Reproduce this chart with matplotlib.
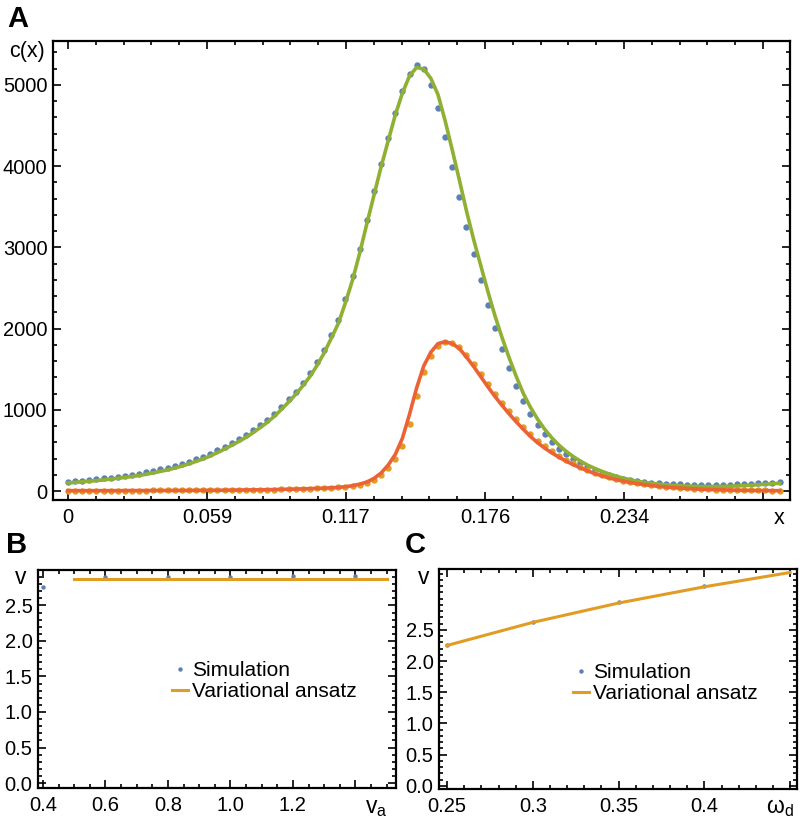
import numpy as np
import matplotlib
matplotlib.use('Agg')
import matplotlib.pyplot as plt
from matplotlib.ticker import MultipleLocator, FixedLocator

plt.rcParams['font.family'] = ['Liberation Sans', 'DejaVu Sans']
plt.rcParams['mathtext.default'] = 'regular'

# ---- panel A: concentration profiles ----
# simulation grid (step 0.003) and values
x_sim = np.arange(101) * 0.003

c1_sim = [115, 123, 130, 138, 146, 155, 166, 177, 189, 200,
          214, 230, 248, 266, 285, 307, 334, 362, 392, 421,
          461, 503, 548, 594, 640, 690, 750, 812, 875, 950,
          1040, 1130, 1225, 1330, 1450, 1585, 1740, 1925, 2110, 2370,
          2650, 2980, 3340, 3690, 4030, 4350, 4660, 4930, 5140, 5240,
          5190, 5000, 4720, 4358, 3993, 3617, 3254, 2921, 2601, 2292,
          2009, 1750, 1511, 1292, 1105, 949, 815, 701, 605, 523,
          454, 394, 342, 298, 260, 227, 197, 171, 152, 138,
          126, 115, 105, 97, 91, 86, 82, 79, 77, 76,
          76, 77, 78, 80, 83, 87, 91, 96, 101, 105, 110]

c1_ansatz = [100, 107, 114, 121, 129, 137, 147, 157, 168, 179,
             192, 207, 224, 242, 261, 283, 308, 335, 365, 395,
             432, 473, 517, 563, 610, 660, 718, 780, 845, 920,
             1005, 1095, 1190, 1295, 1410, 1545, 1700, 1880, 2065, 2320,
             2600, 2930, 3290, 3640, 3990, 4310, 4630, 4900, 5110, 5215,
             5195, 5080, 4880, 4560, 4200, 3830, 3450, 3100, 2780, 2460,
             2160, 1890, 1640, 1410, 1200, 1030, 885, 760, 655, 565,
             490, 425, 370, 320, 280, 245, 212, 185, 160, 140,
             122, 107, 95, 85, 77, 70, 65, 61, 58, 56,
             55, 56, 57, 60, 63, 67, 72, 78, 84, 90, 96]

c2_sim = [5, 5, 5, 5, 5, 5, 5, 5, 6, 6,
          6, 6, 7, 7, 7, 8, 8, 8, 9, 9,
          10, 10, 11, 12, 13, 14, 15, 16, 17, 19,
          21, 23, 25, 27, 30, 33, 36, 40, 45, 50,
          62, 78, 100, 137, 195, 285, 390, 560, 830, 1165,
          1460, 1660, 1790, 1835, 1825, 1775, 1680, 1570, 1445, 1320,
          1200, 1090, 985, 885, 790, 700, 620, 550, 490, 435,
          385, 340, 300, 262, 228, 198, 172, 150, 130, 112,
          97, 84, 72, 62, 53, 46, 40, 34, 29, 25,
          22, 19, 16, 14, 12, 10, 9, 8, 7, 6, 5]

c2_ansatz = [5, 5, 5, 5, 5, 5, 5, 5, 6, 6,
             6, 6, 7, 7, 7, 8, 8, 8, 9, 9,
             10, 10, 11, 12, 13, 14, 15, 16, 17, 19,
             21, 23, 25, 27, 30, 33, 36, 40, 46, 53,
             67, 85, 112, 155, 222, 320, 450, 650, 945, 1270,
             1540, 1710, 1815, 1838, 1815, 1755, 1650, 1535, 1410, 1285,
             1165, 1055, 950, 852, 760, 672, 595, 528, 470, 417,
             368, 325, 286, 250, 217, 188, 163, 142, 123, 106,
             92, 79, 68, 58, 50, 43, 37, 32, 27, 23,
             20, 17, 15, 13, 11, 9, 8, 7, 6, 5, 5]

xA_ticks = [0, 0.0586, 0.1172, 0.1758, 0.2344, 0.293]
xA_labels = ['0', '0.059', '0.117', '0.176', '0.234', '']
yA_ticks = [0, 1000, 2000, 3000, 4000, 5000]

# ---- panel B: velocity vs v_a ----
va_sim = [0.4, 0.6, 0.8, 1.0, 1.2, 1.4]
vB_sim = [2.76, 2.895, 2.895, 2.90, 2.91, 2.915]
va_ansatz = [0.5, 1.5]
vB_ansatz = [2.88, 2.88]

# ---- panel C: velocity vs omega_d ----
wd_sim = [0.25, 0.3, 0.35, 0.4]
vC_sim = [2.26, 2.63, 2.95, 3.20]
wd_ansatz = [0.25, 0.3, 0.35, 0.4, 0.45]
vC_ansatz = [2.25, 2.62, 2.93, 3.19, 3.42]

BLUE = '#5E81B5'
ORANGE = '#E19C24'
GREEN = '#8FB032'
RED = '#EB6235'
FS = 14.5


def style_frame(ax):
    for s in ax.spines.values():
        s.set_linewidth(1.6)
    ax.tick_params(which='both', direction='in', top=True, right=True,
                   labelsize=FS, width=1.2)
    ax.tick_params(which='major', length=5.5)
    ax.tick_params(which='minor', length=3)
    ax.tick_params(axis='x', pad=6)
    ax.tick_params(axis='y', pad=4)


fig = plt.figure(figsize=(8, 8.18), dpi=100)

# panel A
axA = fig.add_axes([0.06625, 0.38875, 0.92125, 0.5611])
axA.plot(x_sim, c1_sim, 'o', color=BLUE, ms=4.6, mec='none', zorder=2)
axA.plot(x_sim, c2_sim, 'o', color=ORANGE, ms=4.6, mec='none', zorder=2)
axA.plot(x_sim, c1_ansatz, '-', color=GREEN, lw=2.6, zorder=3)
axA.plot(x_sim, c2_ansatz, '-', color=RED, lw=2.6, zorder=3)
axA.set_xlim(-0.0063, 0.3044)
axA.set_ylim(-110, 5540)
axA.xaxis.set_major_locator(FixedLocator(xA_ticks))
axA.set_xticklabels(xA_labels)
axA.xaxis.set_minor_locator(MultipleLocator(0.01172))
axA.set_yticks(yA_ticks)
axA.yaxis.set_minor_locator(MultipleLocator(200))
style_frame(axA)
axA.annotate('x', xy=(0.2999, 0), xycoords=('data', 'axes fraction'),
             xytext=(0, -6), textcoords='offset points',
             ha='center', va='top', fontsize=FS + 1)
fig.text(27 / 800, 1 - 52 / 818, 'c(x)', ha='center', va='center', fontsize=FS + 1)
fig.text(7 / 800, 1 - 5 / 818, 'A', ha='left', va='top', fontsize=21, fontweight='bold')

# panel B
axB = fig.add_axes([0.0475, 0.0367, 0.4475, 0.2665])
axB.plot(va_sim, vB_sim, 'o', color=BLUE, ms=3.2, mec='none', label='Simulation')
axB.plot(va_ansatz, vB_ansatz, '-', color=ORANGE, lw=2.2, label='Variational ansatz')
axB.set_xlim(0.384, 1.53)
axB.set_ylim(-0.07, 3.0)
axB.set_xticks([0.4, 0.6, 0.8, 1.0, 1.2, 1.4])
axB.set_xticklabels(['0.4', '0.6', '0.8', '1.0', '1.2', ''])
axB.xaxis.set_minor_locator(MultipleLocator(0.05))
axB.set_yticks([0, 0.5, 1.0, 1.5, 2.0, 2.5])
axB.set_yticklabels(['0.0', '0.5', '1.0', '1.5', '2.0', '2.5'])
axB.yaxis.set_minor_locator(MultipleLocator(0.1))
style_frame(axB)
axB.annotate('$\\mathregular{v_a}$', xy=(1.467, 0), xycoords=('data', 'axes fraction'),
             xytext=(0, -6), textcoords='offset points',
             ha='center', va='top', fontsize=FS + 2)
axB.legend(loc='upper left', bbox_to_anchor=(0.35, 0.62), frameon=False,
           fontsize=FS + 0.5, handlelength=0.8, handletextpad=0.2,
           labelspacing=0.1, borderaxespad=0)
fig.text(21 / 800, 1 - 577 / 818, 'v', ha='center', va='center', fontsize=FS + 2)
fig.text(6 / 800, 1 - 531 / 818, 'B', ha='left', va='top', fontsize=21, fontweight='bold')

# panel C
axC = fig.add_axes([0.54875, 0.0355, 0.4475, 0.2685])
axC.plot(wd_sim, vC_sim, 'o', color=BLUE, ms=3.2, mec='none', label='Simulation')
axC.plot(wd_ansatz, vC_ansatz, '-', color=ORANGE, lw=2.2, label='Variational ansatz')
axC.set_xlim(0.2453, 0.454)
axC.set_ylim(-0.05, 3.47)
axC.set_xticks([0.25, 0.3, 0.35, 0.4, 0.45])
axC.set_xticklabels(['0.25', '0.3', '0.35', '0.4', ''])
axC.xaxis.set_minor_locator(MultipleLocator(0.01))
axC.set_yticks([0, 0.5, 1.0, 1.5, 2.0, 2.5])
axC.set_yticklabels(['0.0', '0.5', '1.0', '1.5', '2.0', '2.5'])
axC.yaxis.set_minor_locator(MultipleLocator(0.1))
style_frame(axC)
axC.annotate('ω$_{\\mathregular{d}}$', xy=(0.444, 0), xycoords=('data', 'axes fraction'),
             xytext=(0, -5), textcoords='offset points',
             ha='center', va='top', fontsize=FS + 2)
axC.legend(loc='upper left', bbox_to_anchor=(0.35, 0.61), frameon=False,
           fontsize=FS + 0.5, handlelength=0.8, handletextpad=0.2,
           labelspacing=0.1, borderaxespad=0)
fig.text(424 / 800, 1 - 577 / 818, 'v', ha='center', va='center', fontsize=FS + 2)
fig.text(405 / 800, 1 - 531 / 818, 'C', ha='left', va='top', fontsize=21, fontweight='bold')

fig.savefig('out.png', dpi=100, facecolor='white')
